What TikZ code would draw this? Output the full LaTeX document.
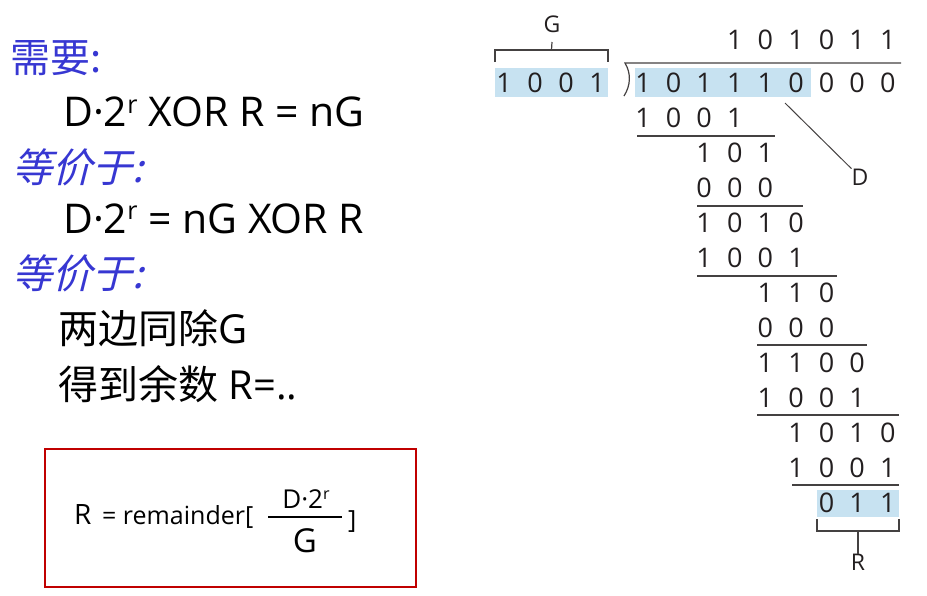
\documentclass[tikz,border=0pt]{standalone}
\usepackage{fontspec}
\setmainfont{Open Sans}
\newfontfamily\cjk{Noto Sans CJK SC}
\newfontfamily\cjksl[FakeSlant=0.25]{Noto Sans CJK SC}
\newcommand\fs[1]{\fontsize{#1}{#1}\selectfont}
\newcommand\supr[1]{\raisebox{0.33em}{\fs{#1}r}}
\definecolor{cblue}{RGB}{55,55,210}
\definecolor{hl}{RGB}{199,226,241}
\definecolor{ink}{RGB}{35,31,32}
\definecolor{boxred}{RGB}{192,0,0}
\tikzset{
  txt/.style={inner sep=0pt, anchor=base west},
  big/.style={txt, font=\fs{40}},
  fml/.style={txt, font=\fs{41}},
  dg/.style={inner sep=0pt, font=\fs{27}, text=ink, text height=19.3pt, text depth=0pt, anchor=center},
  lab/.style={inner sep=0pt, font=\fs{23}, text=ink, anchor=center},
  rule/.style={draw=ink!85, line width=1.2pt},
}
\newcommand\drow[4]{%
  \foreach \d [count=\k from 0] in {#4} {
    \node[dg] (r#1c\k) at ({643+30.6*(#3+\k-1)},#2) {\d};
  }}
\begin{document}
\begin{tikzpicture}[x=1pt,y=-1pt]
\useasboundingbox (0,0) rectangle (927,595);
% left text
\node[big, text=cblue] (need) at (10,72) {\cjk 需要:};
\node[fml] (f1) at (63,126.7) {D·2\supr{25} XOR R = nG};
\node[big, text=cblue] (eq1) at (12,182) {\cjksl 等价于:};
\node[fml] (f2) at (63,233) {D·2\supr{25} = nG XOR R};
\node[big, text=cblue] (eq2) at (12,288) {\cjksl 等价于:};
\node[big] (div) at (58,343) {{\cjk 两边同除}G};
\node[big] (rem) at (58,399) {{\cjk 得到余数} R=..};
% red box
\draw[draw=boxred, line width=2pt] (44.5,449) rectangle (416,587);
\node[txt, font=\fs{28}] (bR) at (74,524) {R};
\node[txt, font=\fs{25}] (brem) at (102,524) {= remainder[};
\node[inner sep=0pt, font=\fs{26}, anchor=base] (num) at (306,508) {D·2\supr{16}};
\draw[line width=1.4pt] (268,517) -- (342,517);
\node[inner sep=0pt, font=\fs{33}, anchor=base] (den) at (305,552) {G};
\node[txt, font=\fs{25}] (brk) at (348,528) {]};
% highlights
\fill[hl] (495,68) rectangle (608,97);
\fill[hl] (635,68) rectangle (811,97);
\fill[hl] (817,490) rectangle (899,517);
% divisor G
\foreach \d [count=\k from 0] in {1,0,0,1} {
  \node[dg] (g\k) at ({504+31*\k},83) {\d};
}
\draw[rule] (495,62) -- (495,50) -- (608,50) -- (608,62);
\coordinate (gtop) at (551.5,50);
\node[lab] (G) at (552,24) {G};
\draw[rule] (gtop) -- (G.south |- 0,42);
% division bracket
\coordinate (bk1) at (625,63);
\coordinate (bk2) at (624,96);
\draw[rule] (bk2) .. controls (631,85) and (631,73) .. (bk1) -- (901,63);
% rows
\drow{q}{40}{4}{1,0,1,0,1,1}
\drow{1}{83}{1}{1,0,1,1,1,0,0,0,0}
\drow{2}{118}{1}{1,0,0,1}
\drow{3}{153}{3}{1,0,1}
\drow{4}{188}{3}{0,0,0}
\drow{5}{223}{3}{1,0,1,0}
\drow{6}{258}{3}{1,0,0,1}
\drow{7}{293}{5}{1,1,0}
\drow{8}{328}{5}{0,0,0}
\drow{9}{363}{5}{1,1,0,0}
\drow{10}{398}{5}{1,0,0,1}
\drow{11}{433}{6}{1,0,1,0}
\drow{12}{468}{6}{1,0,0,1}
\drow{13}{503}{7}{0,1,1}
% rules
\draw[rule] (637,136) -- (775,136);
\draw[rule] (697,206) -- (803,206);
\draw[rule] (697,276) -- (837,276);
\draw[rule] (757,345) -- (867,345);
\draw[rule] (757,415) -- (899,415);
\draw[rule] (792,485) -- (899,485);
% D label
\coordinate (dst) at (785,103);
\node[lab] (D) at (860,177) {D};
\draw[rule, line width=1pt] (dst) -- (D.north west);
% R bracket
\draw[rule] (817,519) -- (817,531) -- (899,531) -- (899,519);
\node[lab] (R) at (858,562) {R};
\draw[rule] (858,531) -- (R.north);
\end{tikzpicture}
\end{document}
